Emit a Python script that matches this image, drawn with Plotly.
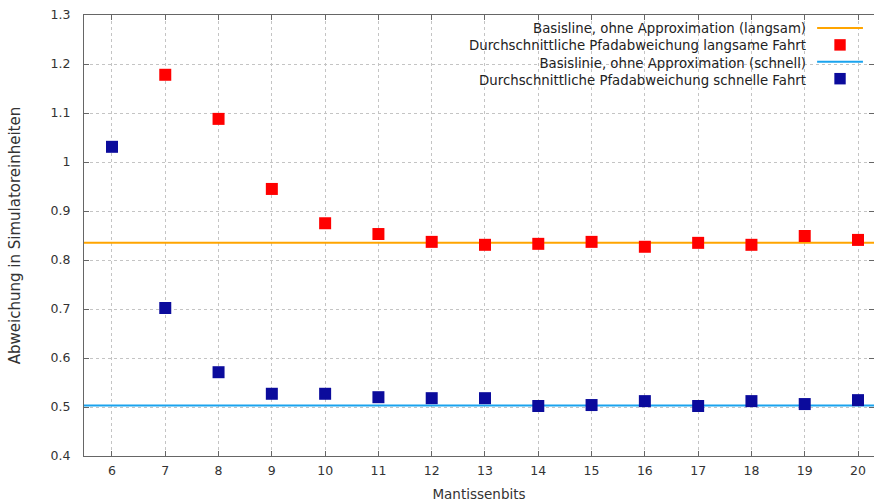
import plotly.graph_objects as go

bits = [6, 7, 8, 9, 10, 11, 12, 13, 14, 15, 16, 17, 18, 19, 20]
slow_bits = [7, 8, 9, 10, 11, 12, 13, 14, 15, 16, 17, 18, 19, 20]
slow_dev = [1.178, 1.088, 0.945, 0.875, 0.853, 0.837, 0.831, 0.833, 0.837, 0.827, 0.835, 0.831, 0.849, 0.841]
fast_dev = [1.031, 0.702, 0.571, 0.527, 0.527, 0.520, 0.518, 0.518, 0.502, 0.504, 0.512, 0.502, 0.512, 0.506, 0.514]
baseline_slow = 0.835
baseline_fast = 0.503
y_ticks = [0.4, 0.5, 0.6, 0.7, 0.8, 0.9, 1.0, 1.1, 1.2, 1.3]
y_tick_text = ["0.4", "0.5", "0.6", "0.7", "0.8", "0.9", "1", "1.1", "1.2", "1.3"]
legend_labels = [
    "Basisline, ohne Approximation (langsam)",
    "Durchschnittliche Pfadabweichung langsame Fahrt",
    "Basislinie, ohne Approximation (schnell)",
    "Durchschnittliche Pfadabweichung schnelle Fahrt",
]

ORANGE = "#ffa500"
RED = "#ff0000"
LBLUE = "#1aa3ee"
NAVY = "#0b0b9c"
FONT = "DejaVu Sans"
FS = 13
X0, X1 = 5.475, 20.3

fig = go.Figure()
fig.add_trace(go.Scatter(x=[X0, X1], y=[baseline_slow, baseline_slow], mode="lines",
                         line=dict(color=ORANGE, width=2), showlegend=False, hoverinfo="skip"))
fig.add_trace(go.Scatter(x=[X0, X1], y=[baseline_fast, baseline_fast], mode="lines",
                         line=dict(color=LBLUE, width=2), showlegend=False, hoverinfo="skip"))
fig.add_trace(go.Scatter(x=slow_bits, y=slow_dev, mode="markers",
                         marker=dict(symbol="square", size=12, color=RED), showlegend=False))
fig.add_trace(go.Scatter(x=bits, y=fast_dev, mode="markers",
                         marker=dict(symbol="square", size=12, color=NAVY), showlegend=False))

# custom legend: right-aligned text block, symbols on the right
legend_y = [0.9705, 0.9322, 0.8939, 0.8556]
text_right = 0.917
sym_x = 0.957
fig.add_annotation(x=text_right, y=0.992, xref="paper", yref="paper",
                   text="<br>".join(legend_labels), align="right",
                   showarrow=False, xanchor="right", yanchor="top",
                   font=dict(family=FONT, size=13.3, color="#222"))
fig.add_shape(type="line", xref="paper", yref="paper", x0=0.928, x1=0.986,
              y0=legend_y[0], y1=legend_y[0], line=dict(color=ORANGE, width=2))
fig.add_shape(type="line", xref="paper", yref="paper", x0=0.928, x1=0.986,
              y0=legend_y[2], y1=legend_y[2], line=dict(color=LBLUE, width=2))
for yy, c in [(legend_y[1], RED), (legend_y[3], NAVY)]:
    fig.add_shape(type="rect", xref="paper", yref="paper",
                  x0=sym_x - 0.0072, x1=sym_x + 0.0072, y0=yy - 0.013, y1=yy + 0.013,
                  line=dict(width=0), fillcolor=c)

axis_common = dict(showline=True, linecolor="#666", linewidth=1, mirror="ticks",
                   ticks="inside", ticklen=5, tickcolor="#666",
                   showgrid=True, gridcolor="#c4c4c4", griddash="dot", gridwidth=1,
                   zeroline=False, tickfont=dict(family=FONT, size=12.5, color="#333"))
fig.update_xaxes(range=[X0, X1], tickvals=bits, ticklabelstandoff=3, **axis_common,
                 title=dict(text="Mantissenbits", font=dict(family=FONT, size=13.5, color="#333"), standoff=12))
fig.update_yaxes(range=[0.4, 1.3], tickvals=y_ticks, ticktext=y_tick_text, ticklabelstandoff=10,
                 **axis_common,
                 title=dict(text="Abweichung in Simulatoreinheiten", font=dict(family=FONT, size=15, color="#333"), standoff=26))

fig.update_layout(width=874, height=504, margin=dict(l=84, r=0, t=15, b=48),
                  paper_bgcolor="white", plot_bgcolor="white",
                  font=dict(family=FONT, size=FS, color="#333"), showlegend=False)
fig.write_html("out.html")
